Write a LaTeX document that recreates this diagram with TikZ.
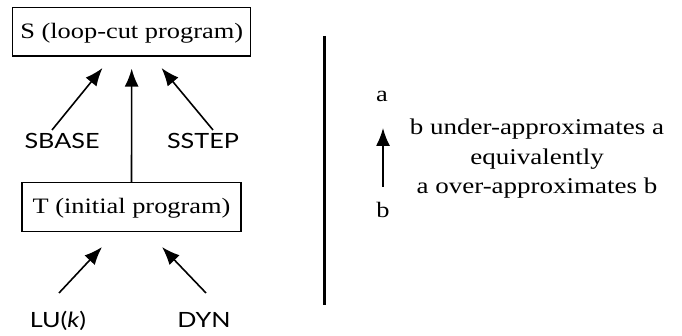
\documentclass[tikz,border=0pt]{standalone}
\usepackage{fontspec}
\setmainfont[FakeStretch=1.2]{Liberation Serif}
\newfontfamily\labelsans[FakeStretch=1.2]{Lato}
\usetikzlibrary{arrows.meta}
\begin{document}
\begin{tikzpicture}[x=1pt,y=-1pt,
  prog/.style={draw,line width=1.3pt,inner sep=0pt,
    minimum width=#1,minimum height=48.5pt,
    text height=17.5pt,text depth=3.5pt,
    font=\fontsize{22}{26}\selectfont},
  tech/.style={inner sep=0pt,anchor=base,font=\labelsans\fontsize{21}{24}\selectfont},
  var/.style={inner sep=0pt,anchor=base,font=\fontsize{22}{26}\selectfont},
  approx/.style={-{Latex[length=18pt,width=14pt]},line width=1.6pt}]
\useasboundingbox (0,0) rectangle (682,336);

% programs
\node[prog=238pt] (S) at (131.7,31.7) {S (loop-cut program)};
\node[prog=219pt] (T) at (131.5,207) {T (initial program)};

% techniques
\node[tech] (sbase) at (62,149) {SBASE};
\node[tech] (sstep) at (203,149) {SSTEP};
\node[tech] (lu) at (58,327) {LU(\textit{k})};
\node[tech] (dyn) at (204,327) {DYN};

% arrow end points
\coordinate (sbase-from) at (52,130);
\coordinate (sbase-to) at (102.5,68);
\coordinate (sstep-from) at (213,130);
\coordinate (sstep-to) at (161.5,68);
\coordinate (lu-from) at (59,293);
\coordinate (lu-to) at (102,247);
\coordinate (dyn-from) at (206,293);
\coordinate (dyn-to) at (162,247);

\draw[approx] (sbase-from) -- (sbase-to);
\draw[approx] (sstep-from) -- (sstep-to);
\draw[approx] (T.north) -- ([yshift=-12pt]S.south);
\draw[approx] (lu-from) -- (lu-to);
\draw[approx] (dyn-from) -- (dyn-to);

% separator
\coordinate (sep-top) at (324.7,36);
\coordinate (sep-bot) at (324.7,305);
\draw[line width=3.5pt] (sep-top) -- (sep-bot);

% legend
\node[var] (a) at (382,102) {a};
\node[var] (b) at (383,218) {b};
\coordinate (leg-from) at (383,187);
\coordinate (leg-to) at (383,128);
\draw[approx] (leg-from) -- (leg-to);
\node[align=center,inner sep=0pt,font=\fontsize{22.5}{25.5}\selectfont] (legend) at (537,159)
  {b under-approximates a\\[4pt]equivalently\\[4pt]a over-approximates b};
\end{tikzpicture}
\end{document}
